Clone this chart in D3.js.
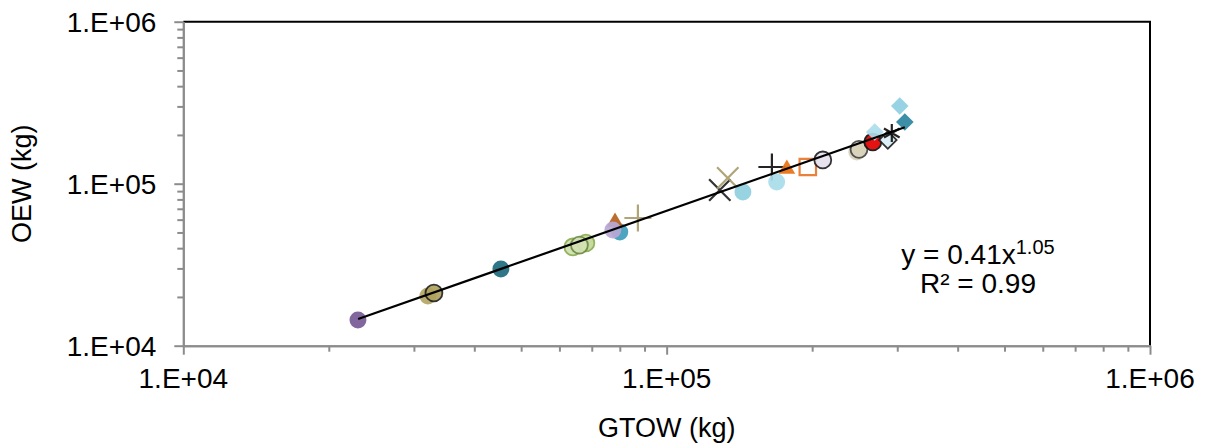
<!DOCTYPE html>
<html>
<head>
<meta charset="utf-8">
<script src="https://cdn.jsdelivr.net/npm/d3@7"></script>
<style>
  body { margin: 0; background: #fff; }
  text { font-family: "Liberation Sans", Arial, sans-serif; fill: #000; }
</style>
</head>
<body>
<svg width="1205" height="443"></svg>
<script>
// aircraft values (kg)
var gtow = [22980, 32060, 33000, 45400, 63970, 68060, 66000, 80000, 78200, 77400, 87200,
            128800, 133800, 143800, 165100, 168900, 177300, 195900, 210400, 247400, 250000,
            267000, 269500, 286800, 292300, 303600, 311000];
var oew  = [14410, 20270, 21150, 29750, 40680, 43050, 41800, 50350, 58000, 51800, 61420,
            91440, 108400, 88900, 126800, 102450, 123200, 126800, 140100, 156900, 163000,
            180900, 208500, 186200, 205600, 301700, 240400];
// marker per point: shape, fill, stroke
var markers = [
  ["circle", "#765a96", "none"],
  ["circle", "#b3a764", "none"],
  ["circle", "#b0a35e", "#222"],
  ["circle", "#1d6b7e", "none"],
  ["circle", "#cfe0ad", "#8cad52"],
  ["circle", "#c3d89a", "#8cad52"],
  ["circle", "#d3e3b5", "#6f8a45"],
  ["circle", "#3f9dbb", "none"],
  ["triangle", "#b5601c", "none"],
  ["circle", "#b9a8d5", "none"],
  ["plus", "none", "#a89d6c"],
  ["times", "none", "#222"],
  ["times", "none", "#a89d6c"],
  ["circle", "#8fcfe0", "none"],
  ["plus", "none", "#111"],
  ["circle", "#a9dcea", "none"],
  ["triangle", "#e8700f", "none"],
  ["square", "none", "#e8762a"],
  ["circle", "#e5e1ee", "#222"],
  ["circle", "#d8d2bb", "none"],
  ["circle", "#d9d3bb", "#444"],
  ["circle", "#e10000", "#111"],
  ["diamond", "#aedcec", "none"],
  ["diamond", "#d8eef6", "#222"],
  ["asterisk", "none", "#111"],
  ["diamond", "#8ecfe2", "none"],
  ["diamond", "#2b86a0", "none"]
];
// trend line end points (power fit)
var trendGTOW = [23000, 311000];
var trendOEW = [14620, 223000];
var xMajor = [1e4, 1e5, 1e6];
var yMajor = [1e4, 1e5, 1e6];
var tickLabels = ["1.E+04", "1.E+05", "1.E+06"];

var svg = d3.select("svg"),
    margin = {top: 21.7, right: 55, bottom: 97.3, left: 183.3},
    width = 1205 - margin.left - margin.right,
    height = 443 - margin.top - margin.bottom;
var g = svg.append("g").attr("transform", "translate(" + margin.left + "," + margin.top + ")");

var x = d3.scaleLog().domain([1e4, 1e6]).range([0, width]);
var y = d3.scaleLog().domain([1e4, 1e6]).range([height, 0]);

var minor = [];
[1e4, 1e5].forEach(function(d) {
    for (var k = 2; k < 10; k++) minor.push(d * k);
});

// plot frame top and right
g.append("path")
    .attr("d", "M0,0H" + width + "V" + height)
    .attr("fill", "none")
    .attr("stroke", "#000")
    .attr("stroke-width", 2);

function styleAxis(sel) {
    sel.selectAll("path, line").attr("stroke", "#8c8c8c").attr("stroke-width", 2);
    sel.selectAll("text").remove();
}
g.append("g").attr("transform", "translate(0," + height + ")")
    .call(d3.axisBottom(x).tickValues(minor).tickSize(6).tickSizeOuter(0)).call(styleAxis);
g.append("g").attr("transform", "translate(0," + height + ")")
    .call(d3.axisBottom(x).tickValues(xMajor).tickSize(9).tickSizeOuter(0)).call(styleAxis);
g.append("g")
    .call(d3.axisLeft(y).tickValues(minor).tickSize(6).tickSizeOuter(0)).call(styleAxis);
g.append("g")
    .call(d3.axisLeft(y).tickValues(yMajor).tickSize(9).tickSizeOuter(0)).call(styleAxis);

g.selectAll(".xlab").data(xMajor).enter().append("text")
    .attr("x", function(d) { return x(d); })
    .attr("y", height + 42)
    .attr("text-anchor", "middle")
    .style("font-size", "28px")
    .text(function(d, i) { return tickLabels[i]; });
g.selectAll(".ylab").data(yMajor).enter().append("text")
    .attr("x", -27)
    .attr("y", function(d) { return y(d) + 10; })
    .attr("text-anchor", "end")
    .style("font-size", "28px")
    .text(function(d, i) { return tickLabels[i]; });

svg.append("text")
    .attr("x", margin.left + x(1e5))
    .attr("y", 437)
    .attr("text-anchor", "middle")
    .style("font-size", "27px")
    .text("GTOW (kg)");
svg.append("text")
    .attr("transform", "translate(31," + (margin.top + y(1e5)) + ") rotate(-90)")
    .attr("text-anchor", "middle")
    .style("font-size", "27px")
    .text("OEW (kg)");

// markers
var shapes = {
    circle: [d3.symbolCircle, 225, 0],
    triangle: [d3.symbolTriangle, 120, 0],
    square: [d3.symbolSquare, 270, 0],
    diamond: [d3.symbolSquare, 155, 45],
    plus: [d3.symbolPlus, 240, 0],
    times: [d3.symbolTimes, 300, 0],
    asterisk: [d3.symbolAsterisk, 230, 0]
};
g.selectAll(".pt")
    .data(gtow)
    .enter()
    .append("path")
    .attr("transform", function(d, i) {
        return "translate(" + x(d) + "," + y(oew[i]) + ") rotate(" + shapes[markers[i][0]][2] + ")";
    })
    .attr("d", function(d, i) {
        var s = shapes[markers[i][0]];
        return d3.symbol().type(s[0]).size(s[1])();
    })
    .attr("fill", function(d, i) { return markers[i][1]; })
    .attr("stroke", function(d, i) { return markers[i][2]; })
    .attr("stroke-width", function(d, i) { return markers[i][1] === "none" ? 2.2 : 1.8; })
    .attr("opacity", 0.92);

var trend = d3.line()
    .x(function(d) { return x(d); })
    .y(function(d, i) { return y(trendOEW[i]); });
g.append("path")
    .datum(trendGTOW)
    .attr("fill", "none")
    .attr("stroke", "#000")
    .attr("stroke-width", 2.2)
    .attr("d", trend);

var eq = svg.append("text")
    .attr("x", 978)
    .attr("y", 264)
    .attr("text-anchor", "middle")
    .style("font-size", "28px");
eq.append("tspan").text("y = 0.41x");
eq.append("tspan").attr("dy", -10).style("font-size", "20px").text("1.05");
svg.append("text")
    .attr("x", 978)
    .attr("y", 293)
    .attr("text-anchor", "middle")
    .style("font-size", "28px")
    .text("R² = 0.99");
</script>
</body>
</html>
